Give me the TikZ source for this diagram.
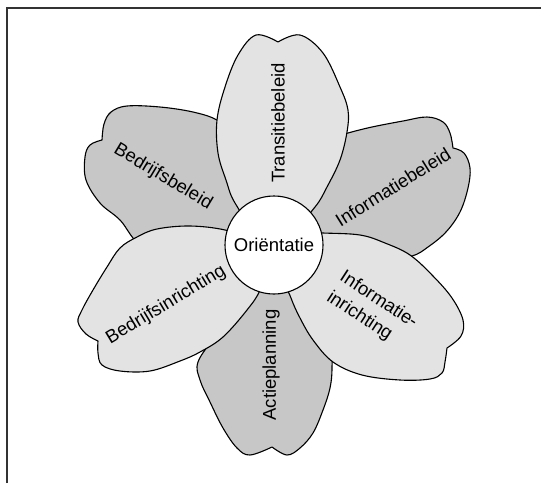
\documentclass[tikz,border=0pt]{standalone}
\usepackage{fontspec}
\setmainfont{Liberation Sans}
\begin{document}
\begin{tikzpicture}[x=1pt,y=-1pt,
  petal/.style={draw=black, line width=1.1pt, line join=round},
  darkpetal/.style={petal, fill=black!22},
  lightpetal/.style={petal, fill=black!11},
  petaltext/.style={font=\fontsize{18.5}{24}\selectfont, inner sep=0pt},
  hub/.style={circle, draw=black, line width=1.1pt, fill=white, minimum size=98pt, inner sep=0pt},
]
\useasboundingbox (0,0) rectangle (541,483);
% frame (top and left edge)
\draw[line width=1.4pt, black!80] (7,483) -- (7,8) -- (541,8);

% lower layer of petals
\draw[darkpetal] plot[smooth, tension=0.6] coordinates {
  (102,140) (90,145) (85,157) (86,180) (100,203) (120,220) (145,248) (200,258)
  (255,245) (250,190) (235,135) (217,120) (193,112) (160,107) (127,106)
  (111,112) (104,124) (102,140)} -- cycle;
\draw[darkpetal] plot[smooth, tension=0.6] coordinates {
  (453,148) (464,153) (470,168) (468,188) (460,212) (446,232) (428,247)
  (412,256) (380,262) (330,255) (290,235) (300,180) (325,140) (348,133)
  (372,127) (403,121) (427,117) (443,122) (450,133) (453,148)} -- cycle;
\draw[darkpetal] plot[smooth, tension=0.6] coordinates {
  (272,447) (250,455) (237,448) (223,428) (210,402) (200,380) (198,362)
  (215,335) (240,290) (274,265) (305,290) (330,335) (332,367) (330,388)
  (323,410) (313,433) (300,448) (287,455) (272,447)} -- cycle;

% upper layer of petals
\draw[lightpetal] plot[smooth, tension=0.6] coordinates {
  (278,42) (300,35) (323,53) (340,87) (348,110) (347,132) (340,160)
  (327,187) (315,207) (290,232) (258,232) (235,203) (226,180) (218,153)
  (217,120) (225,87) (238,55) (256,35) (278,42)} -- cycle;
\draw[lightpetal] plot[smooth, tension=0.6] coordinates {
  (98,341) (98,353) (102,365) (120,371) (150,371) (180,361) (200,352)
  (223,337) (247,310) (260,290) (265,265) (250,240) (225,230) (190,226)
  (157,229) (137,237) (120,248) (107,267) (93,290) (82,310) (78,322)
  (86,334) (98,341)} -- cycle;
\draw[lightpetal] plot[smooth, tension=0.6] coordinates {
  (447,348) (445,362) (442,373) (430,379) (400,380) (362,375) (333,362)
  (313,340) (300,318) (291,298) (282,270) (292,232) (323,233) (360,235)
  (385,243) (410,255) (433,276) (452,298) (463,320) (461,336) (447,348)} -- cycle;

% centre
\node[hub, petaltext] (orient) at (274,245) {Oriëntatie};

% petal labels
\node[petaltext, rotate=90]  (trans)  at (278,123) {Transitiebeleid};
\node[petaltext, rotate=32]  (ibel)   at (393,187) {Informatiebeleid};
\node[petaltext, rotate=-33, align=left] (iinr) at (372,310) {Informatie-\\inrichting};
\node[petaltext, rotate=90]  (actie)  at (271,365) {Actieplanning};
\node[petaltext, rotate=31]  (binr)   at (166,305) {Bedrijfsinrichting};
\node[petaltext, rotate=-31] (bbel)   at (163,177) {Bedrijfsbeleid};
\end{tikzpicture}
\end{document}
